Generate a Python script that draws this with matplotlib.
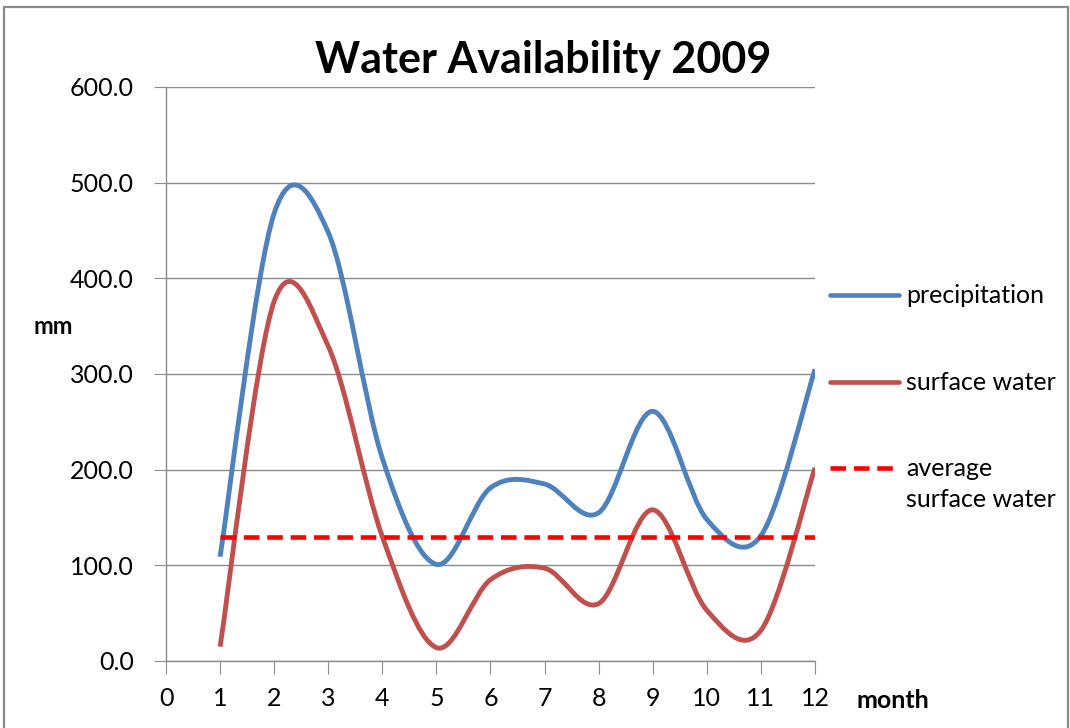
import matplotlib
matplotlib.use("Agg")
import matplotlib.pyplot as plt
import numpy as np
from matplotlib.path import Path
from matplotlib.patches import PathPatch, Rectangle
from matplotlib.lines import Line2D

plt.rcParams["font.family"] = ["Lato", "DejaVu Sans"]

months = [1, 2, 3, 4, 5, 6, 7, 8, 9, 10, 11, 12]
precipitation = [109, 468, 448, 212, 101, 181, 185, 155, 261, 148, 131, 305]
surface_water = [15, 376, 329, 130, 14, 85, 97, 60, 158, 53, 32, 202]
avg_surface = 130

BLUE = "#4F81BD"
RED = "#C0504D"
GRID = "#8C8C8C"


def smooth_path(xs, ys):
    """Excel 风格平滑线:经过每个点的三次贝塞尔(Catmull-Rom 控制点)。"""
    pts = np.column_stack([xs, ys]).astype(float)
    ext = np.vstack([pts[0], pts, pts[-1]])
    verts = [pts[0]]
    codes = [Path.MOVETO]
    for i in range(len(pts) - 1):
        p0, p1, p2, p3 = ext[i], ext[i + 1], ext[i + 2], ext[i + 3]
        verts += [p1 + (p2 - p0) / 6, p2 - (p3 - p1) / 6, p2]
        codes += [Path.CURVE4] * 3
    return Path(verts, codes)


W, H = 1070, 728
fig = plt.figure(figsize=(W / 100, H / 100), dpi=100)
ax = fig.add_axes([166 / W, 1 - 661 / H, (815 - 166) / W, (661 - 87) / H])

for ys, c in [(precipitation, BLUE), (surface_water, RED)]:
    ax.add_patch(PathPatch(smooth_path(months, ys), facecolor="none",
                           edgecolor=c, lw=3.5, capstyle="butt", zorder=3))
ax.plot([months[0], months[-1]], [avg_surface, avg_surface], color="#FF0000",
        lw=3.3, dashes=(3.4, 1.7), zorder=4)

ax.set_xlim(0, 12)
ax.set_ylim(0, 600)
ax.set_xticks(range(0, 13))
ax.set_yticks(range(0, 601, 100))
ax.set_yticklabels([f"{v:.1f}" for v in range(0, 601, 100)])
ax.yaxis.grid(True, color=GRID, lw=1.0)
ax.set_axisbelow(True)
for s in ["top", "right"]:
    ax.spines[s].set_visible(False)
for s in ["left", "bottom"]:
    ax.spines[s].set_color(GRID)
    ax.spines[s].set_linewidth(1.0)
ax.tick_params(axis="x", direction="out", length=9, color=GRID, labelsize=18, pad=10)
ax.tick_params(axis="y", direction="out", length=9, color=GRID, labelsize=18, pad=14)

fig.text(543 / W, 1 - 60 / H, "Water Availability 2009", ha="center", va="center",
         fontsize=31, fontweight="bold")
fig.text(53 / W, 1 - 327 / H, "mm", ha="center", va="center", fontsize=17, fontweight="bold")
fig.text(893 / W, 1 - 700 / H, "month", ha="center", va="center", fontsize=18, fontweight="bold")

# 图例(手工摆放)
legend_rows = [("precipitation", BLUE, "-", 295),
               ("surface water", RED, "-", 382),
               ("average\nsurface water", "#FF0000", "--", 468)]
for label, c, ls, yp in legend_rows:
    y = 1 - yp / H
    kw = dict(dashes=(3.4, 1.7)) if ls == "--" else dict(solid_capstyle="round")
    fig.add_artist(Line2D([830 / W, 899 / W], [y, y], color=c, lw=3.3,
                          transform=fig.transFigure, **kw))
    fig.text(906 / W, y + 11 / H, label, ha="left", va="top", fontsize=18,
             linespacing=1.4)

fig.add_artist(Rectangle((4 / W, -0.05), 1064 / W, 1 - 7 / H + 0.05, transform=fig.transFigure,
                         fill=False, edgecolor="#8A8A8A", lw=1.6))

fig.savefig("out.png", dpi=100)
